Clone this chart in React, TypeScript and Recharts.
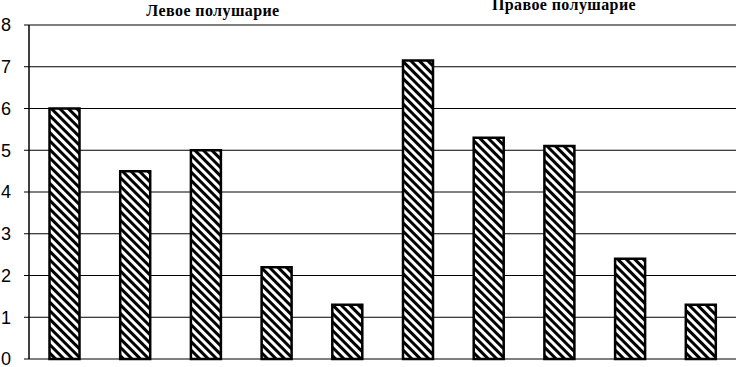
import { BarChart, Bar, XAxis, YAxis, CartesianGrid } from "recharts";

const categories = ["Л1", "Л2", "Л3", "Л4", "Л5", "П1", "П2", "П3", "П4", "П5"];
const values = [6.0, 4.5, 5.0, 2.2, 1.3, 7.15, 5.3, 5.1, 2.4, 1.3];
const yTicks = [0, 1, 2, 3, 4, 5, 6, 7, 8];
const titles = ["Левое полушарие", "Правое полушарие"];

const data = categories.map((name, i) => ({ name, value: values[i] }));

const titleStyle = {
  position: "absolute" as const,
  textAlign: "center" as const,
  fontFamily: "Liberation Serif, Times New Roman, serif",
  fontWeight: "bold" as const,
  fontSize: 16,
  letterSpacing: 0.4,
  whiteSpace: "nowrap" as const,
};

export default function App() {
  return (
    <div style={{ position: "absolute", left: 0, top: 0, width: 736, height: 367, background: "#fff", overflow: "hidden" }}>
      <BarChart
        width={736}
        height={367}
        data={data}
        margin={{ top: 25, right: 0, bottom: 8, left: 0 }}
        barCategoryGap="29%"
      >
        <defs>
          <pattern id="hatch" width="6" height="6" patternUnits="userSpaceOnUse" patternTransform="rotate(-45)">
            <rect width="6" height="6" fill="#fff" />
            <rect width="3" height="6" fill="#000" />
          </pattern>
        </defs>
        <CartesianGrid vertical={false} stroke="#000" strokeWidth={1} strokeDasharray="" />
        <XAxis dataKey="name" hide />
        <YAxis
          width={29}
          domain={[0, 8]}
          ticks={yTicks}
          interval={0}
          axisLine={{ stroke: "#000", strokeWidth: 1.5 }}
          tickLine={{ stroke: "#000" }}
          tickSize={5}
          tickMargin={13}
          tick={{ fill: "#000", fontSize: 18, fontFamily: "Liberation Sans, Arial, sans-serif" }}
        />
        <Bar dataKey="value" fill="url(#hatch)" stroke="#000" strokeWidth={2.5} isAnimationActive={false} />
      </BarChart>
      <div style={{ ...titleStyle, left: 133, top: 2, width: 160 }}>{titles[0]}</div>
      <div style={{ ...titleStyle, left: 484, top: -4, width: 160 }}>{titles[1]}</div>
    </div>
  );
}
